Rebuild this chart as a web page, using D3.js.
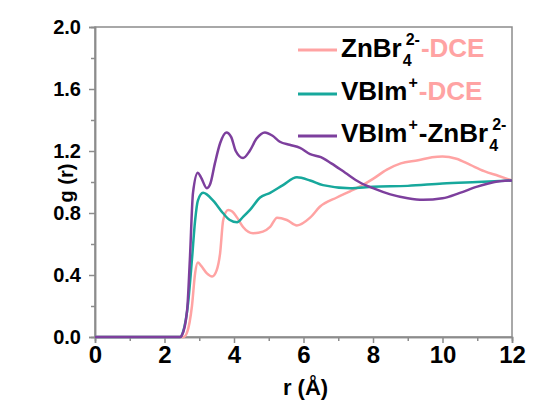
<!DOCTYPE html>
<html>
<head>
<meta charset="utf-8">
<script src="https://cdn.jsdelivr.net/npm/d3@7"></script>
<style>
  body { margin: 0; background: #fff; }
  text { font-family: Arial, "Liberation Sans", sans-serif; font-weight: bold; }
</style>
</head>
<body>
<script>
// datos
const rZnDCE = [0, 2.55, 2.65, 2.79, 2.88, 2.96, 3.05, 3.22, 3.37, 3.5, 3.6, 3.69, 3.83, 3.95, 4.09, 4.26, 4.55, 4.83, 5.04, 5.24, 5.52, 5.81, 6.19, 6.47, 6.96, 7.34, 7.7, 8.0, 8.4, 8.8, 9.3, 9.7, 10.0, 10.4, 10.8, 11.2, 11.6, 12];
const gZnDCE = [0, 0, 0.03, 0.2, 0.41, 0.48, 0.46, 0.41, 0.39, 0.43, 0.54, 0.755, 0.82, 0.81, 0.77, 0.71, 0.67, 0.68, 0.71, 0.77, 0.755, 0.72, 0.77, 0.84, 0.9, 0.94, 0.98, 1.02, 1.08, 1.12, 1.14, 1.16, 1.165, 1.15, 1.11, 1.07, 1.04, 1.01];

const rVbDCE = [0, 2.45, 2.53, 2.68, 2.79, 2.88, 2.96, 3.11, 3.4, 3.68, 3.88, 4.09, 4.26, 4.46, 4.75, 5.04, 5.41, 5.81, 6.19, 6.56, 7.34, 8, 9, 10, 11, 12];
const gVbDCE = [0, 0, 0.03, 0.22, 0.5, 0.75, 0.88, 0.93, 0.88, 0.8, 0.755, 0.74, 0.775, 0.82, 0.9, 0.93, 0.98, 1.03, 1.01, 0.98, 0.96, 0.97, 0.975, 0.99, 1.0, 1.01];

const rVbZn = [0, 2.45, 2.5, 2.65, 2.73, 2.82, 2.96, 3.05, 3.22, 3.32, 3.45, 3.6, 3.78, 3.92, 4.05, 4.26, 4.45, 4.65, 4.89, 5.1, 5.32, 5.6, 5.9, 6.19, 6.5, 6.8, 7.2, 7.6, 8.0, 8.5, 9.0, 9.44, 10.0, 10.5, 11.0, 11.5, 12];
const gVbZn = [0, 0, 0.01, 0.17, 0.5, 0.93, 1.06, 1.03, 0.96, 0.99, 1.12, 1.25, 1.32, 1.29, 1.2, 1.155, 1.2, 1.28, 1.32, 1.3, 1.26, 1.24, 1.22, 1.18, 1.16, 1.12, 1.06, 1.0, 0.96, 0.92, 0.895, 0.885, 0.895, 0.93, 0.97, 1.0, 1.01];

const xTicks = [0, 2, 4, 6, 8, 10, 12];
const yTicks = [0, 0.4, 0.8, 1.2, 1.6, 2.0];

const series = [
  { r: rZnDCE, g: gZnDCE, color: "#ffa3a3", label: [["ZnBr", "#000"], ["sub4sup2-"], ["-DCE", "#ffa3a3"]] },
  { r: rVbDCE, g: gVbDCE, color: "#17a89c", label: [["VBIm", "#000"], ["sup+"], ["-DCE", "#ffa3a3"]] },
  { r: rVbZn, g: gVbZn, color: "#7d3f9d", label: [["VBIm", "#000"], ["sup+"], ["-ZnBr", "#000"], ["sub4sup2-"]] }
];

const W = 533, H = 402;
const margin = { top: 27, right: 21, bottom: 65, left: 95 };
const width = W - margin.left - margin.right;
const height = H - margin.top - margin.bottom;

const svg = d3.select("body").append("svg")
    .attr("width", W)
    .attr("height", H);

const g = svg.append("g")
    .attr("transform", "translate(" + margin.left + "," + margin.top + ")");

const x = d3.scaleLinear().domain([0, 12]).range([0, width]);
const y = d3.scaleLinear().domain([0, 2]).range([height, 0]);

const axisColor = "#8c8c8c";

// marco
g.append("rect")
    .attr("width", width)
    .attr("height", height)
    .attr("fill", "none")
    .attr("stroke", axisColor)
    .attr("stroke-width", 1.5);

// ejes
const xAxis = g.append("g")
    .attr("transform", "translate(0," + height + ")")
    .call(d3.axisBottom(x).tickValues(xTicks).tickSize(6).tickPadding(3).tickFormat(d3.format("d")));
g.append("g")
    .attr("transform", "translate(0," + height + ")")
    .call(d3.axisBottom(x).tickValues(d3.range(1, 12, 2)).tickSize(4).tickFormat(""));

const yAxis = g.append("g")
    .call(d3.axisLeft(y).tickValues(yTicks).tickSize(6).tickPadding(8).tickFormat(d3.format(".1f")));
g.append("g")
    .call(d3.axisLeft(y).tickValues([0.2, 0.6, 1.0, 1.4, 1.8]).tickSize(4).tickFormat(""));

g.selectAll(".domain").attr("stroke", axisColor).attr("stroke-width", 1.5);
g.selectAll(".tick line").attr("stroke", axisColor).attr("stroke-width", 1.5);
xAxis.selectAll("text").attr("font-size", "24px").attr("fill", "#000");
yAxis.selectAll("text").attr("font-size", "20px").attr("fill", "#000").attr("dy", "0.3em");

// títulos
svg.append("text")
    .attr("x", margin.left + width / 2 + 2)
    .attr("y", 395)
    .attr("text-anchor", "middle")
    .attr("font-size", "22px")
    .text("r (Å)");

svg.append("text")
    .attr("transform", "translate(73,183) rotate(-90)")
    .attr("text-anchor", "middle")
    .attr("font-size", "20px")
    .text("g (r)");

// curvas
const line = d3.line()
    .x(d => x(d[0]))
    .y(d => y(d[1]))
    .curve(d3.curveMonotoneX);

series.forEach(s => {
    g.append("path")
        .datum(s.r.map((r, i) => [r, s.g[i]]))
        .attr("fill", "none")
        .attr("stroke", s.color)
        .attr("stroke-width", 2.5)
        .attr("stroke-linejoin", "round")
        .attr("d", line);
});

// leyenda
const legY = [50, 94, 136];
const baseY = [57, 100, 142];
series.forEach((s, i) => {
    svg.append("line")
        .attr("x1", 298).attr("x2", 337)
        .attr("y1", legY[i]).attr("y2", legY[i])
        .attr("stroke", s.color)
        .attr("stroke-width", 3);

    let cx = 341;
    s.label.forEach(part => {
        if (part.length === 2) {
            const t = svg.append("text")
                .attr("x", cx).attr("y", baseY[i])
                .attr("font-size", "26px")
                .attr("fill", part[1])
                .text(part[0]);
            cx += t.node().getComputedTextLength();
        } else {
            const code = part[0];
            let w = 0;
            if (code.startsWith("sub4")) {
                const t = svg.append("text")
                    .attr("x", cx + 1).attr("y", baseY[i] + 9)
                    .attr("font-size", "16px")
                    .text("4");
                w = t.node().getComputedTextLength();
            }
            const sup = code.includes("sup2-") ? "2-" : "+";
            const dx = code.includes("sup2-") ? 4 : 1;
            const t2 = svg.append("text")
                .attr("x", cx + dx).attr("y", baseY[i] - 12)
                .attr("font-size", "16px")
                .text(sup);
            w = Math.max(w, dx + t2.node().getComputedTextLength());
            cx += w + 1;
        }
    });
});
</script>
</body>
</html>
